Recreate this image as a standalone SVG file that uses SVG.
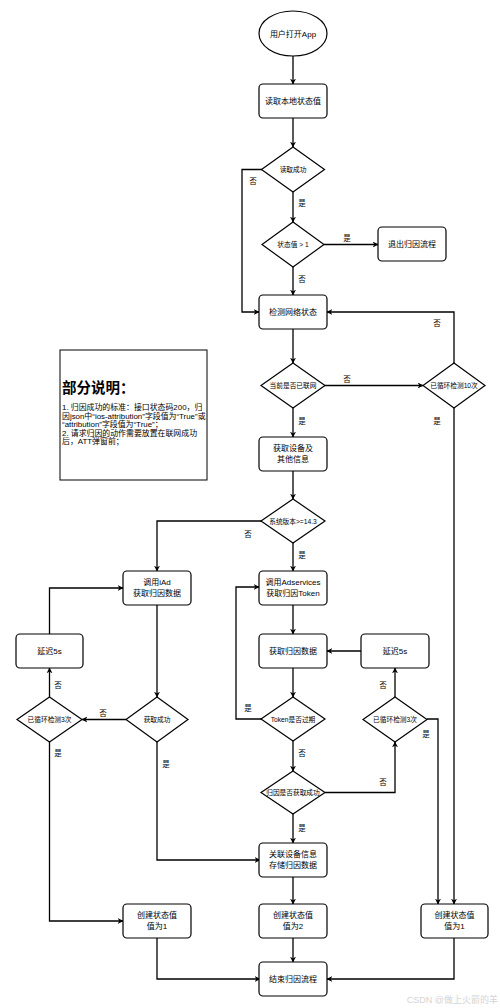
<svg xmlns="http://www.w3.org/2000/svg" width="500" height="1008" viewBox="0 0 500 1008">
<defs>
<marker id="ah" viewBox="0 0 10 10" refX="9" refY="5" markerWidth="6" markerHeight="6" markerUnits="userSpaceOnUse" orient="auto">
<path d="M0,0 L10,5 L0,10 L3,5 Z" fill="#000"/>
</marker>
<style>
.n{fill:#fff;stroke:#000;stroke-width:1.2}
.t{font-family:"Liberation Sans","Noto Sans CJK SC",sans-serif;font-size:8px;fill:#000;text-anchor:middle}
.d{font-family:"Liberation Sans","Noto Sans CJK SC",sans-serif;font-size:6.7px;fill:#000;text-anchor:middle}
.l{font-family:"Liberation Sans","Noto Sans CJK SC",sans-serif;font-size:7.5px;fill:#000;text-anchor:middle}
.e{fill:none;stroke:#000;stroke-width:1.3;marker-end:url(#ah)}
.nt{font-family:"Liberation Sans","Noto Sans CJK SC",sans-serif;font-size:7.9px;fill:#000}
</style>
</defs>
<rect width="500" height="1008" fill="#fff"/>
<g id="connectors">
<path class="e" d="M293,56 V84"/>
<path class="e" d="M293,118 V147"/>
<path class="e" d="M293,192 V222"/>
<path class="e" d="M262,169.5 H242 V312 H259"/>
<path class="e" d="M324,244.5 H378"/>
<path class="e" d="M293,267 V295"/>
<path class="e" d="M293,329 V363"/>
<path class="e" d="M325,385.5 H423"/>
<path class="e" d="M454,363 V312 H327"/>
<path class="e" d="M454,408 V904"/>
<path class="e" d="M293,408 V437"/>
<path class="e" d="M293,471 V499"/>
<path class="e" d="M262,521 H157 V571"/>
<path class="e" d="M293,543 V571"/>
<path class="e" d="M157,605 V697"/>
<path class="e" d="M126,719.5 H82"/>
<path class="e" d="M49.5,697 V668"/>
<path class="e" d="M49.5,634 V588 H123"/>
<path class="e" d="M49.5,742 V921 H123"/>
<path class="e" d="M157,742 V860 H260"/>
<path class="e" d="M293,605 V634"/>
<path class="e" d="M293,668 V697"/>
<path class="e" d="M262,719 H236 V587 H259"/>
<path class="e" d="M293,741 V771"/>
<path class="e" d="M361,651 H327"/>
<path class="e" d="M395,697 V668"/>
<path class="e" d="M427,719 H438 V904"/>
<path class="e" d="M325,792.5 H395 V742"/>
<path class="e" d="M293,814 V843"/>
<path class="e" d="M293,877 V904"/>
<path class="e" d="M293,938 V962"/>
<path class="e" d="M157,938 V979 H260"/>
<path class="e" d="M454,938 V979 H327"/>
<g id="edge-labels">
<text class="l" x="302" y="206">是</text>
<text class="l" x="253" y="184">否</text>
<text class="l" x="347" y="241">是</text>
<text class="l" x="302" y="282">否</text>
<text class="l" x="347" y="382">否</text>
<text class="l" x="437" y="326">否</text>
<text class="l" x="437" y="424">是</text>
<text class="l" x="302" y="424">是</text>
<text class="l" x="248" y="537">否</text>
<text class="l" x="302" y="558">是</text>
<text class="l" x="103" y="716">否</text>
<text class="l" x="58" y="688">否</text>
<text class="l" x="58" y="756">是</text>
<text class="l" x="166" y="767">是</text>
<text class="l" x="248" y="711">是</text>
<text class="l" x="302" y="756">否</text>
<text class="l" x="383" y="688">否</text>
<text class="l" x="426" y="737">是</text>
<text class="l" x="383" y="785">否</text>
<text class="l" x="302" y="831">是</text>
</g>
</g>
<g id="start"><ellipse class="n" cx="293" cy="33.5" rx="34" ry="22.5"/><text class="t" x="293" y="36.5">用户打开App</text></g>
<g id="read"><rect class="n" x="259" y="84" width="68" height="34" rx="4"/><text class="t" x="293" y="104">读取本地状态值</text></g>
<g id="readok"><polygon class="n" points="293,147 324.5,169.5 293,192 261.5,169.5"/><text class="d" x="293" y="172">读取成功</text></g>
<g id="gt1"><polygon class="n" points="293,222 324,244.5 293,267 262,244.5"/><text class="d" x="293" y="247">状态值 &gt; 1</text></g>
<g id="exit"><rect class="n" x="378" y="227" width="68" height="34" rx="4"/><text class="t" x="412" y="247">退出归因流程</text></g>
<g id="net"><rect class="n" x="259" y="295" width="68" height="34" rx="4"/><text class="t" x="293" y="315">检测网络状态</text></g>
<g id="online"><polygon class="n" points="293,363 325,385.5 293,408 261,385.5"/><text class="d" x="293" y="388">当前是否已联网</text></g>
<g id="loop10"><polygon class="n" points="454,363 485,385.5 454,408 423,385.5"/><text class="d" x="454" y="388">已循环检测10次</text></g>
<g id="device"><rect class="n" x="259" y="437" width="68" height="34" rx="4"/><text class="t" x="293" y="451">获取设备及</text><text class="t" x="293" y="462">其他信息</text></g>
<g id="version"><polygon class="n" points="293,499 325,521 293,543 261,521"/><text class="d" x="293" y="523.5">系统版本&gt;=14.3</text></g>
<g id="iad"><rect class="n" x="123" y="571" width="68" height="34" rx="4"/><text class="t" x="157" y="585">调用iAd</text><text class="t" x="157" y="596">获取归因数据</text></g>
<g id="adservices"><rect class="n" x="259" y="571" width="68" height="34" rx="4"/><text class="t" x="293" y="585">调用Adservices</text><text class="t" x="293" y="596">获取归因Token</text></g>
<g id="delayL"><rect class="n" x="16" y="634" width="67" height="34" rx="4"/><text class="t" x="49.5" y="654">延迟5s</text></g>
<g id="fetch"><rect class="n" x="259" y="634" width="68" height="34" rx="4"/><text class="t" x="293" y="654">获取归因数据</text></g>
<g id="delayR"><rect class="n" x="361" y="634" width="68" height="34" rx="4"/><text class="t" x="395" y="654">延迟5s</text></g>
<g id="iadok"><polygon class="n" points="157,697 188,719.5 157,742 126,719.5"/><text class="d" x="157" y="722">获取成功</text></g>
<g id="loop3L"><polygon class="n" points="49.5,697 82,719.5 49.5,742 17,719.5"/><text class="d" x="49.5" y="722">已循环检测3次</text></g>
<g id="token"><polygon class="n" points="293,697 325,719 293,741 261,719"/><text class="d" x="293" y="721.5">Token是否过期</text></g>
<g id="loop3R"><polygon class="n" points="395,697 427,719.5 395,742 363,719.5"/><text class="d" x="395" y="722">已循环检测3次</text></g>
<g id="attrok"><polygon class="n" points="293,771 325,792.5 293,814 261,792.5"/><text class="d" x="293" y="795">归因是否获取成功</text></g>
<g id="store"><rect class="n" x="259" y="843" width="68" height="34" rx="4"/><text class="t" x="293" y="857">关联设备信息</text><text class="t" x="293" y="868">存储归因数据</text></g>
<g id="setL"><rect class="n" x="123" y="904" width="68" height="34" rx="4"/><text class="t" x="157" y="918">创建状态值</text><text class="t" x="157" y="929">值为1</text></g>
<g id="set2"><rect class="n" x="259" y="904" width="68" height="34" rx="4"/><text class="t" x="293" y="918">创建状态值</text><text class="t" x="293" y="929">值为2</text></g>
<g id="setR"><rect class="n" x="421" y="904" width="67" height="34" rx="4"/><text class="t" x="454.5" y="918">创建状态值</text><text class="t" x="454.5" y="929">值为1</text></g>
<g id="end"><rect class="n" x="259" y="962" width="68" height="34" rx="4"/><text class="t" x="293" y="982">结束归因流程</text></g>
<g id="note">
<rect x="60" y="350" width="147" height="130" fill="#fff" stroke="#000" stroke-width="1"/>
<text x="62" y="393" font-family="'Liberation Sans','Noto Sans CJK SC',sans-serif" font-size="14.5" font-weight="bold" fill="#000">部分说明：</text>
<text class="nt" x="62" y="410">1. 归因成功的标准：接口状态码200，归</text>
<text class="nt" x="62" y="418.5">因json中“ios-attribution”字段值为“True”或</text>
<text class="nt" x="62" y="427">“attribution”字段值为“True”；</text>
<text class="nt" x="62" y="435.5">2. 请求归因的动作需要放置在联网成功</text>
<text class="nt" x="62" y="444">后，ATT弹窗前；</text>
</g>
<text x="498" y="1003" text-anchor="end" font-family="'Liberation Sans','Noto Sans CJK SC',sans-serif" font-size="9" fill="#d4d4d4">CSDN @做上火箭的羊</text>
</svg>
